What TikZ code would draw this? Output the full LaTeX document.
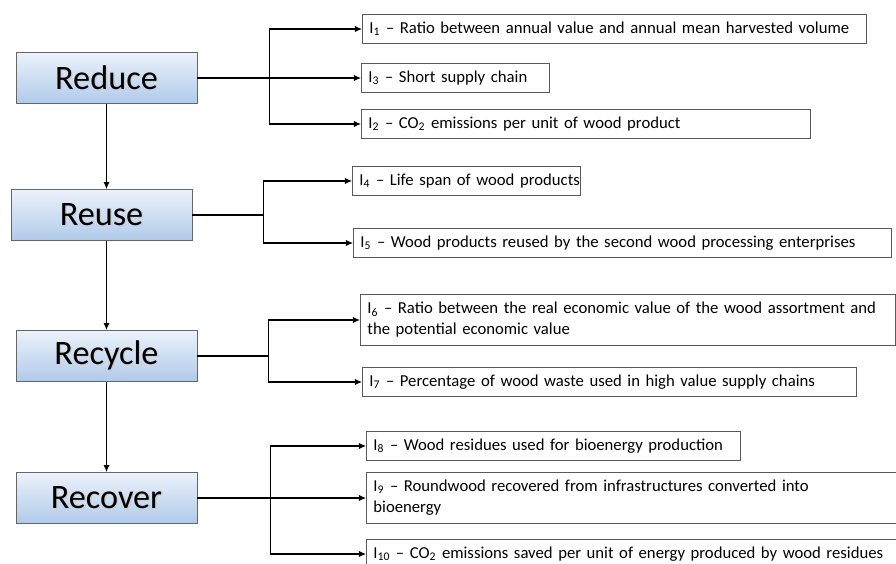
\documentclass[tikz,border=0pt]{standalone}
\usepackage{fontspec}
\setmainfont{Carlito}
\usetikzlibrary{arrows.meta}
\definecolor{stagetop}{RGB}{236,242,251}
\definecolor{stagemid}{RGB}{214,228,246}
\definecolor{stagebot}{RGB}{176,202,234}
\newcommand{\shtext}[1]{\rlap{\hspace{0.7pt}\raisebox{-0.7pt}{\textcolor{black!20}{#1}}}#1}

\begin{document}
\begin{tikzpicture}[x=0.02cm,y=-0.02cm,line width=0.6pt,>={Latex[length=4pt,width=3.5pt]},
  stage/.style={draw=black!60,line width=0.5pt,top color=stagetop,middle color=stagemid,bottom color=stagebot,
    minimum width=3.62cm,minimum height=1.02cm,inner sep=0pt,font=\fontsize{19.5}{22}\selectfont},
  ind/.style={draw=black!65,line width=0.5pt,anchor=west,align=left,inner xsep=4pt,inner ysep=2pt,
    text width=#1,minimum height=0.58cm,font=\fontsize{9.5}{12}\selectfont},
  link/.style={line width=0.6pt}]
\useasboundingbox (0,0) rectangle (896,564);
% ---- four stages
\node[stage] (reduce)  at (106.5,78)  {\shtext{Reduce}};
\node[stage] (reuse)   at (101.5,215) {\shtext{Reuse}};
\node[stage] (recycle) at (106.5,356) {\shtext{Recycle}};
\node[stage] (recover) at (106.5,498) {\shtext{Recover}};
\draw[->,link] (reduce.south) -- (reduce.south |- reuse.north);
\draw[->,link] (reuse.south -| reduce.south) -- (recycle.north);
\draw[->,link] (recycle.south) -- (recover.north);
% ---- indicators of Reduce
\node[ind=9.80cm]  (i1) at (362,29)  {\mbox{I\textsubscript{1} -- Ratio between annual value and annual mean harvested volume}};
\node[ind=3.48cm]  (i3) at (361,78)  {\mbox{I\textsubscript{3} -- Short supply chain}};
\node[ind=8.70cm]  (i2) at (361,124) {\mbox{I\textsubscript{2} -- CO\textsubscript{2} emissions per unit of wood product}};
% ---- indicators of Reuse
\node[ind=4.28cm]  (i4) at (352,181) {\mbox{I\textsubscript{4} -- Life span of wood products}};
\node[ind=10.48cm] (i5) at (353,243) {\mbox{I\textsubscript{5} -- Wood products reused by the second wood processing enterprises}};
% ---- indicators of Recycle
\node[ind=10.42cm,minimum height=1.02cm] (i6) at (360,320) {\mbox{I\textsubscript{6} -- Ratio between the real economic value of the wood assortment and}\\the potential economic value};
\node[ind=9.60cm]  (i7) at (362,382) {\mbox{I\textsubscript{7} -- Percentage of wood waste used in high value supply chains}};
% ---- indicators of Recover
\node[ind=7.20cm]  (i8)  at (366,446) {\mbox{I\textsubscript{8} -- Wood residues used for bioenergy production}};
\node[ind=10.32cm,minimum height=1.02cm] (i9) at (366,498) {\mbox{I\textsubscript{9} -- Roundwood recovered from infrastructures converted into}\\bioenergy};
\node[ind=10.32cm] (i10) at (366,554) {\mbox{I\textsubscript{10} -- CO\textsubscript{2} emissions saved per unit of energy produced by wood residues}};
% ---- branches
\draw[link] (reduce.east) -- ++(72,0) coordinate (jrd);
\draw[->,link] (jrd) |- (i1.west);
\draw[->,link] (jrd) |- (i2.west);
\draw[->,link] (jrd) -- (i3.west);
\draw[link] (reuse.east) -- ++(71,0) coordinate (jru);
\draw[->,link] (jru) |- (i4.west);
\draw[->,link] (jru) |- (i5.west);
\draw[link] (recycle.east) -- ++(71,0) coordinate (jrc);
\draw[->,link] (jrc) |- (i6.west);
\draw[->,link] (jrc) |- (i7.west);
\draw[link] (recover.east) -- ++(73,0) coordinate (jrv);
\draw[->,link] (jrv) |- (i8.west);
\draw[->,link] (jrv) -- (i9.west);
\draw[->,link] (jrv) |- (i10.west);
\end{tikzpicture}
\end{document}
